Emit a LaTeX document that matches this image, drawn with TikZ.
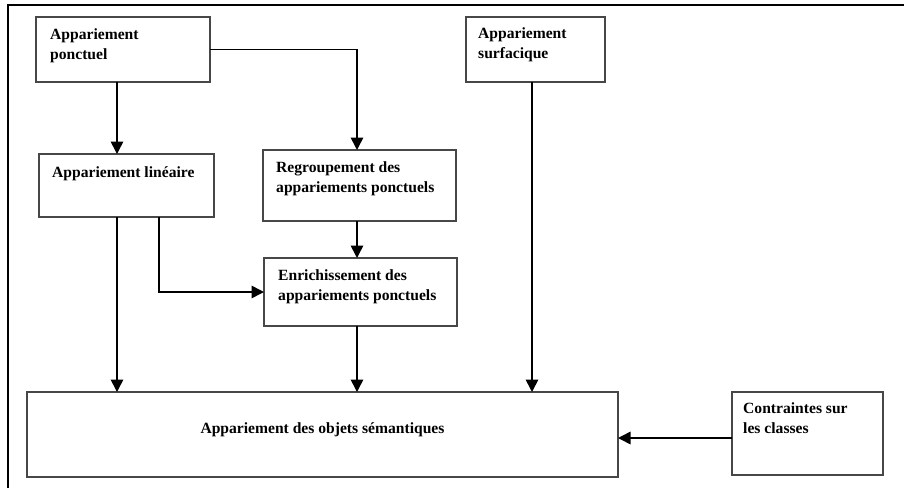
\documentclass[tikz,border=0pt]{standalone}
\usepackage{fontspec}
\setmainfont{Liberation Serif}
\usetikzlibrary{arrows.meta}
\begin{document}
\begin{tikzpicture}[x=1pt,y=-1pt,
  box/.style={draw=black!72,line width=1.1pt,rectangle,inner sep=0pt,outer sep=0pt,fill=white},
  lbl/.style={inner sep=0pt,anchor=base west,align=left,
    font=\bfseries\fontsize{15.6}{20}\selectfont},
  link/.style={line width=1.6pt,black},
  flow/.style={link,-{Triangle[length=12.5pt,width=12.5pt]}}]
\useasboundingbox (0,0) rectangle (904,488);
% outer frame (top and left edges)
\draw[line width=2pt] (904,5) -- (7.5,5) -- (7.5,488);

% boxes
\node[box,minimum width=174pt,minimum height=65pt] (A) at (123,49.5) {};
\node[box,minimum width=175pt,minimum height=63pt] (B) at (126.5,185.5) {};
\node[box,minimum width=193pt,minimum height=71pt] (C) at (359.5,185.5) {};
\node[box,minimum width=139pt,minimum height=65pt] (D) at (535.5,49.5) {};
\node[box,minimum width=193pt,minimum height=68pt] (E) at (360.5,292) {};
\node[box,minimum width=591pt,minimum height=85pt] (M) at (322.5,434.5) {};
\node[box,minimum width=151pt,minimum height=83pt] (F) at (807.5,433.5) {};

% box texts (base anchor sits on the last line)
\node[lbl] (tA) at (50,59) {Appariement\\ponctuel};
\node[lbl] (tB) at (52,177) {Appariement linéaire};
\node[lbl] (tC) at (276,192) {Regroupement des\\appariements ponctuels};
\node[lbl] (tD) at (478,58) {Appariement\\surfacique};
\node[lbl] (tE) at (278,300) {Enrichissement des\\appariements ponctuels};
\node[lbl,anchor=base] (tM) at (322.5,433) {Appariement des objets sémantiques};
\node[lbl] (tF) at (743,433) {Contraintes sur\\les classes};

% connector columns and rows
\coordinate (xab) at (117,0);
\coordinate (xbe) at (159,0);
\coordinate (xce) at (357,0);
\coordinate (xd) at (532,0);
\coordinate (yfm) at (0,438);

% connectors
\draw[flow] (A.south -| xab) -- (B.north -| xab);
\draw[flow] (A.east) -| (C.north -| xce);
\draw[flow] (C.south -| xce) -- (E.north -| xce);
\draw[flow] (B.south -| xbe) |- (E.west);
\draw[flow] (B.south -| xab) -- (M.north -| xab);
\draw[flow] (E.south -| xce) -- (M.north -| xce);
\draw[flow] (D.south -| xd) -- (M.north -| xd);
\draw[flow] (F.west |- yfm) -- (M.east |- yfm);
\end{tikzpicture}
\end{document}
